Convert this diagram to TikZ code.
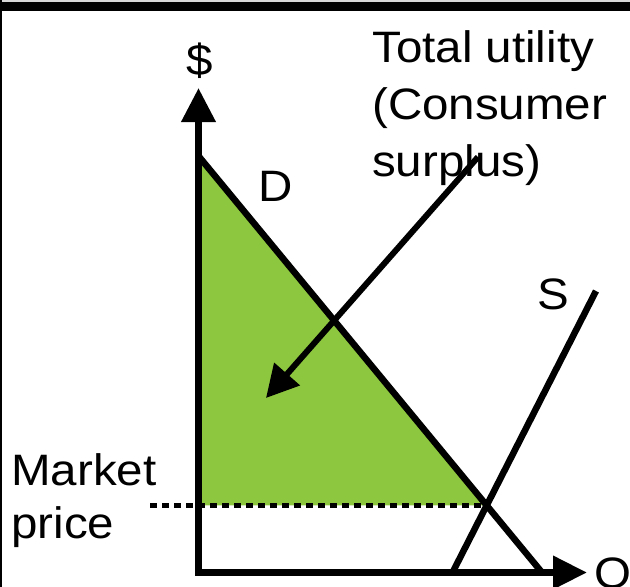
\documentclass[tikz,border=0pt]{standalone}
\usepackage{fontspec}
\setmainfont{Liberation Sans}
\usetikzlibrary{arrows.meta,intersections}
\definecolor{csgreen}{RGB}{141,198,63}
\definecolor{topgray}{RGB}{215,215,215}
\begin{document}
\begin{tikzpicture}[x=1pt,y=-1pt,
  axisline/.style={line width=7pt, line join=miter,
    {Triangle[length=34pt,width=33pt]}-{Triangle[length=34pt,width=32pt]}},
  curveline/.style={line width=6.5pt},
  dotline/.style={line width=5.5pt, dash pattern=on 7pt off 5pt},
  pointer/.style={line width=6pt, -{Triangle[length=32pt,width=33pt]}},
  lbl/.style={inner sep=0pt, xscale=1.08, font=\fontsize{44}{57}\selectfont}]
\useasboundingbox (0,0) rectangle (630,587);
\fill[white] (0,0) rectangle (630,587);
% frame pieces
\fill[topgray] (0,0) rectangle (630,1.6);
\fill[black] (0,1.6) rectangle (630,11);
\fill[black] (0,0) rectangle (2.4,587);
% coordinates
\coordinate (O) at (198.5,572.5);
\coordinate (ytop) at (198.5,88);
\coordinate (xend) at (587,572.5);
\coordinate (dtop) at (198.5,156);
\coordinate (dbot) at (542,572.5);
\coordinate (sbot) at (452.5,572.5);
\coordinate (stop) at (596,291);
\coordinate (mpx) at (150,0);
\coordinate (at) at (478,157);
\coordinate (ah) at (266,398);
\path[name path=dline] (dtop) -- (dbot);
\path[name path=sline] (sbot) -- (stop);
\path[name intersections={of=dline and sline, by=E}];
% consumer surplus area
\fill[csgreen] (dtop) -- (E) -- (O |- E) -- cycle;
% market price dotted line
\draw[dotline] (mpx |- E) -- (E);
% demand and supply
\draw[curveline] (dtop) -- (dbot);
\draw[curveline] (sbot) -- (stop);
% axes
\draw[axisline] (ytop) -- (O) -- (xend);
% pointer arrow
\draw[pointer] (at) -- (ah);
% labels
\node[lbl, anchor=base] (dollar) at (200,75) {\$};
\node[lbl, anchor=base west] (qlab) at (594,588) {Q};
\node[lbl, anchor=base west] (dlab) at (258,201) {D};
\node[lbl, anchor=base west] (slab) at (537,309) {S};
\node[lbl, anchor=north west, align=left] (tu) at (372,30) {Total utility\\(Consumer\\surplus)};
\node[lbl, anchor=north west, align=left, font=\fontsize{44}{53}\selectfont] (mp) at (11,453) {Market\\price};
\end{tikzpicture}
\end{document}
